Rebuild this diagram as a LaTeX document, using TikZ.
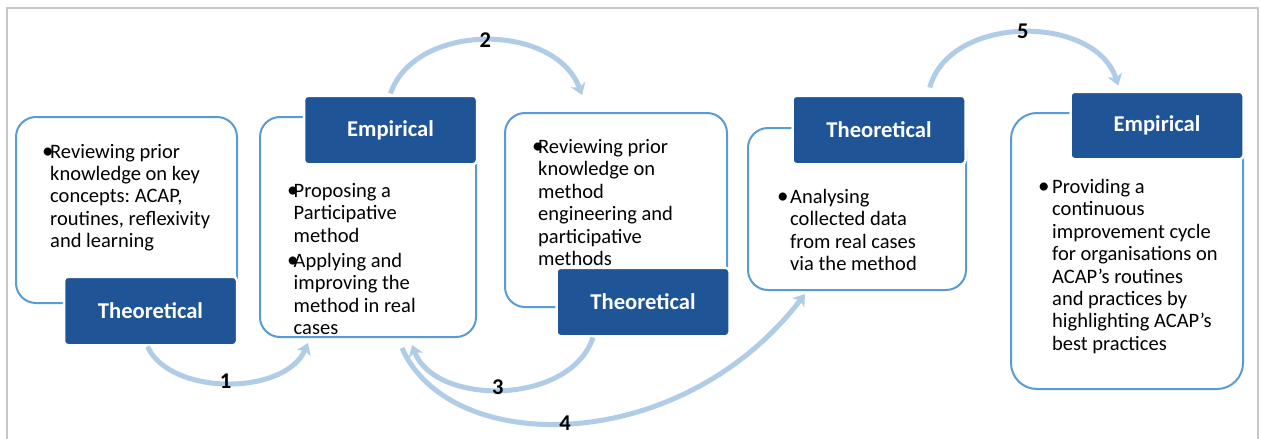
\documentclass[tikz,border=0pt]{standalone}
\usepackage{fontspec}
\setmainfont{Carlito}
\usetikzlibrary{arrows.meta,calc}
\definecolor{darkblue}{HTML}{1F5596}
\definecolor{outblue}{HTML}{5B9BD5}
\definecolor{arrblue}{HTML}{B0CCE6}
\definecolor{framegray}{HTML}{C8C8C8}
\newcommand\bul[1]{\makebox[#1][l]{\fontsize{23}{22}\selectfont•}}
\newcommand\ind[1]{\hspace*{#1}}
\frenchspacing
\begin{document}
\begin{tikzpicture}[x=1pt,y=-1pt,
  whitebox/.style={draw=outblue, line width=2pt, rounded corners=20pt, fill=white, inner sep=0},
  darkbox/.style={draw=white, line width=2.5pt, fill=darkblue, rounded corners=4pt, text=white,
    font=\fontsize{22.6}{26}\selectfont\bfseries, inner sep=0, minimum width=173pt, minimum height=68.5pt},
  bodytext/.style={anchor=base west, inner sep=0, font=\fontsize{20.5}{22.4}\selectfont},
  flow/.style={draw=arrblue, line width=5pt, -{Stealth[length=11pt,width=15pt,inset=3pt]}},
  num/.style={font=\fontsize{22.5}{24}\selectfont\bfseries, inner sep=0, text=black}]
\fill[white] (0,0) rectangle (1261,439);
\useasboundingbox (0,0) rectangle (1261,439);
\draw[framegray, line width=1.5pt] (7,439) -- (7,8) -- (1258,8) -- (1258,439);

% white boxes
\node[whitebox, minimum width=221pt, minimum height=186pt] (wb1) at (126.5,210) {};
\node[whitebox, minimum width=216pt, minimum height=220pt] (wb2) at (368,227) {};
\node[whitebox, minimum width=222pt, minimum height=194pt] (wb3) at (616,210) {};
\node[whitebox, minimum width=218pt, minimum height=162pt] (wb4) at (857,209) {};
\node[whitebox, rounded corners=26pt, minimum width=232pt, minimum height=276pt] (wb5) at (1127,251) {};

% dark label boxes
\node[darkbox] (dt1) at (150.5,311) {Theoretical};
\node[darkbox] (de2) at (390.5,130) {Empirical};
\node[darkbox] (dt3) at (643,302) {Theoretical};
\node[darkbox] (dt4) at (879,130) {Theoretical};
\node[darkbox, minimum height=67.5pt] (de5) at (1157,125.5) {Empirical};

% texts
\node[bodytext] (t1) at (42,158) {\begin{minipage}[t]{200pt}
\bul{8pt}Reviewing prior\\
\ind{8pt}knowledge on key\\
\ind{8pt}concepts: ACAP,\\
\ind{8pt}routines, reflexivity\\
\ind{8pt}and learning\end{minipage}};
\node[bodytext] (t2) at (287,197.5) {\begin{minipage}[t]{185pt}
\bul{6.5pt}Proposing a\\
\ind{6.5pt}Participative\\
\ind{6.5pt}method\\[2.5pt]
\bul{6.5pt}Applying and\\
\ind{6.5pt}improving the\\
\ind{6.5pt}method in real\\
\ind{6.5pt}cases\end{minipage}};
\node[bodytext] (t3) at (532,153.5) {\begin{minipage}[t]{190pt}
\bul{6pt}Reviewing prior\\
\ind{6pt}knowledge on\\
\ind{6pt}method\\
\ind{6pt}engineering and\\
\ind{6pt}participative\\
\ind{6pt}methods\end{minipage}};
\node[bodytext] (t4) at (777,203.5) {\begin{minipage}[t]{185pt}
\bul{13pt}Analysing\\
\ind{13pt}collected data\\
\ind{13pt}from real cases\\
\ind{13pt}via the method\end{minipage}};
\node[bodytext] (t5) at (1038,193.5) {\begin{minipage}[t]{200pt}
\bul{14pt}Providing a\\
\ind{14pt}continuous\\
\ind{14pt}improvement cycle\\
\ind{14pt}for organisations on\\
\ind{14pt}ACAP’s routines\\
\ind{14pt}and practices by\\
\ind{14pt}highlighting ACAP’s\\
\ind{14pt}best practices\end{minipage}};

% arrows
\draw[flow] ($(dt1.south)+(-3,0)$) .. controls (170,396) and (285,396) .. ($(wb2.south west)+(49,5)$)
  node[num, pos=0.49, yshift=2pt] {1};
\draw[flow] ($(de2.north)+(0,-1)$) .. controls (415,22) and (555,22) .. ($(wb3.north west)+(78,-17)$)
  node[num, pos=0.5] {2};
\draw[flow] ($(dt3.south)+(-50,0)$) .. controls (570,406) and (435,406) .. ($(wb2.south east)+(-65,7)$)
  node[num, pos=0.52, yshift=3pt] {3};
\draw[flow] ($(wb2.south)+(34,10)$) .. controls (450,457) and (680,457) .. ($(wb4.south west)+(58,3)$)
  node[num, pos=0.48] {4};
\draw[flow] ($(dt4.north east)+(-37,-7)$) .. controls (950,14) and (1095,14) .. ($(de5.north west)+(49,-5)$)
  node[num, pos=0.5, yshift=1pt] {5};
\end{tikzpicture}
\end{document}
